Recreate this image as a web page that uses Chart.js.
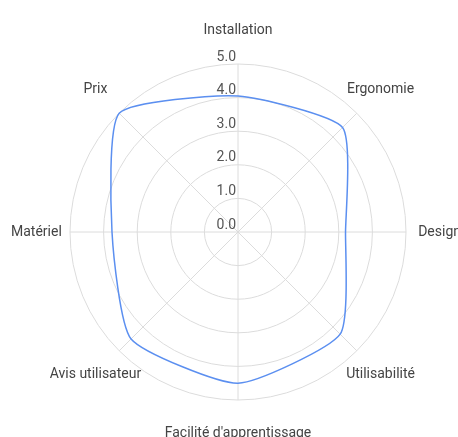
<!DOCTYPE html>
<html>
<head>
<meta charset="utf-8">
<script src="https://cdn.jsdelivr.net/npm/chart.js@4"></script>
<style>
html,body{margin:0;padding:0;background:#fff;}
#wrap{width:458px;height:437px;position:relative;}
</style>
</head>
<body>
<div id="wrap"><canvas id="c"></canvas></div>
<script>
const categories = ["Installation","Ergonomie","Design","Utilisabilité","Facilité d'apprentissage","Avis utilisateur","Matériel","Prix"];
const seriesValues = [4.05, 4.4, 3.2, 4.3, 4.5, 4.5, 3.75, 5.0];
const tickValues = [0, 1, 2, 3, 4, 5];
const tickLabels = ["0.0","1.0","2.0","3.0","4.0","5.0"];

const FONT = "Roboto, 'Noto Sans', sans-serif";

const labelPlugin = {
  id: 'customLabels',
  afterDraw(chart) {
    const scale = chart.scales.r;
    const ctx = chart.ctx;
    ctx.save();
    ctx.font = "14px " + FONT;
    ctx.fillStyle = "#555";
    ctx.textAlign = "right";
    ctx.textBaseline = "middle";
    tickValues.forEach((v, i) => {
      const d = scale.getDistanceFromCenterForValue(v);
      ctx.fillText(tickLabels[i], scale.xCenter - 2, scale.yCenter - d - 7);
    });
    ctx.fillStyle = "#444";
    ctx.textAlign = "center";
    categories.forEach((c, i) => {
      const p = scale.getPointPosition(i, scale.drawingArea * 1.2);
      ctx.fillText(c, p.x, p.y);
    });
    ctx.restore();
  }
};

new Chart(document.getElementById('c'), {
  type: 'radar',
  data: {
    labels: categories,
    datasets: [{
      data: seriesValues,
      borderColor: '#5b8ff0',
      borderWidth: 1.5,
      fill: false,
      pointRadius: 0,
      pointHoverRadius: 0,
      tension: 0.18
    }]
  },
  options: {
    responsive: true,
    maintainAspectRatio: false,
    animation: false,
    layout: { padding: { left: 70, right: 52, top: 64, bottom: 37 } },
    plugins: { legend: { display: false }, tooltip: { enabled: false } },
    scales: {
      r: {
        min: 0,
        max: 5,
        ticks: { display: false, stepSize: 1 },
        pointLabels: { display: false },
        grid: { circular: true, color: '#dcdcdc', lineWidth: 1 },
        angleLines: { color: '#dcdcdc', lineWidth: 1 }
      }
    }
  },
  plugins: [labelPlugin]
});
</script>
</body>
</html>
